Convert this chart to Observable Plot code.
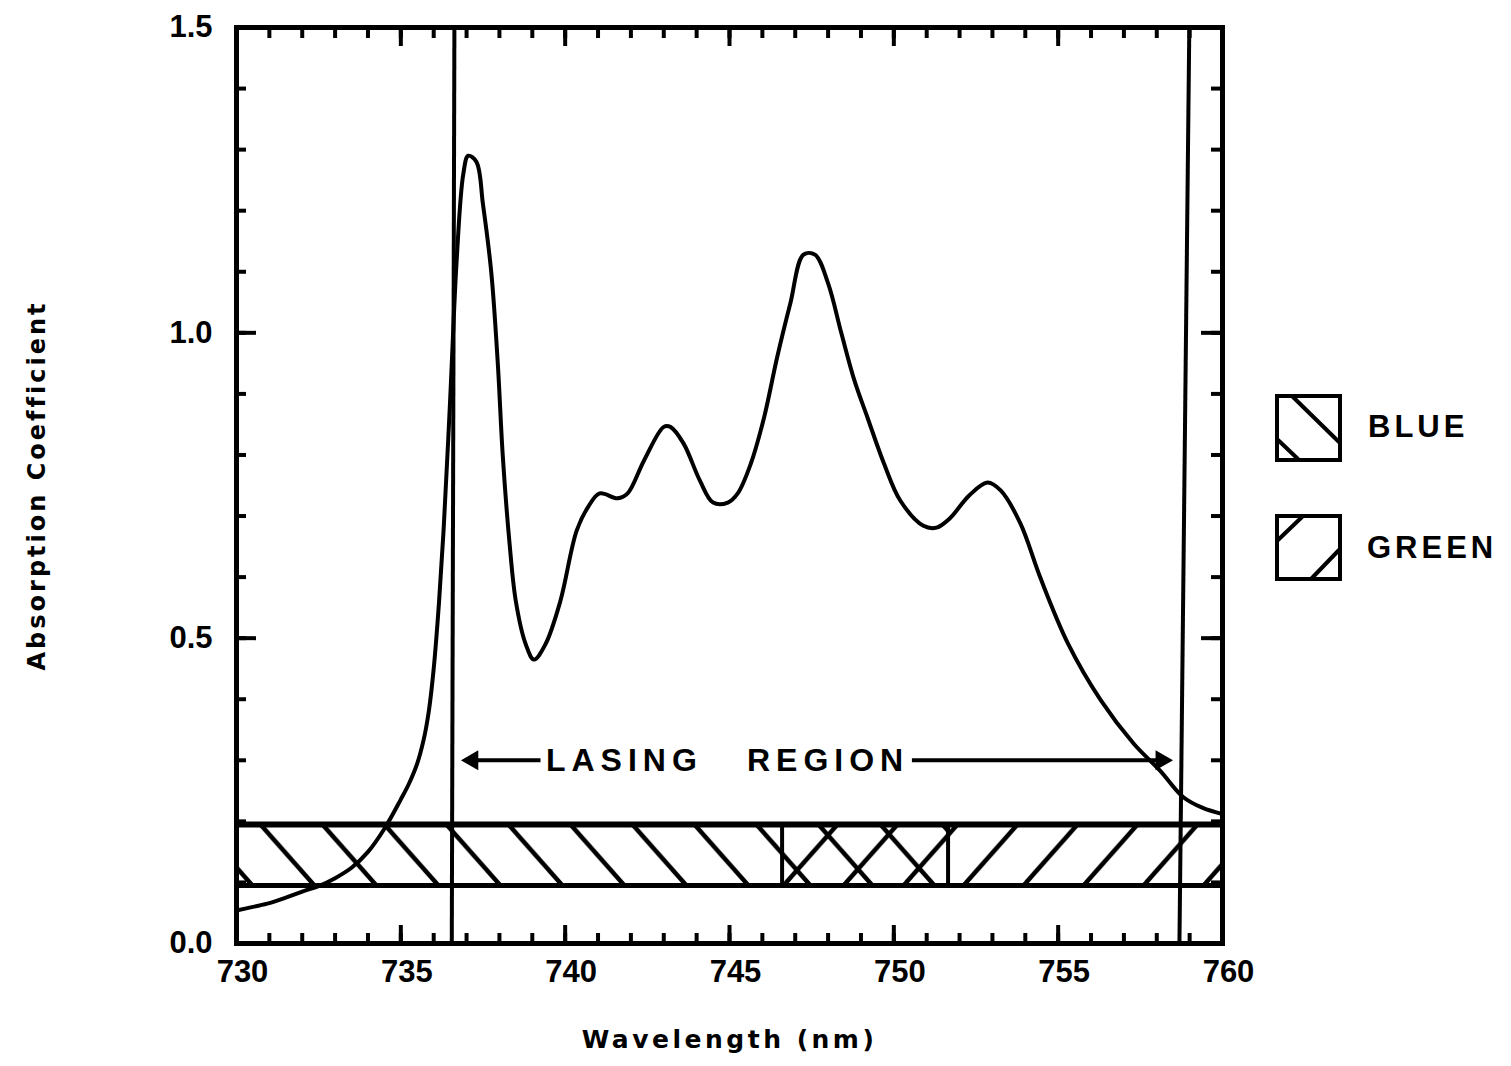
<!DOCTYPE html>
<html><head><meta charset="utf-8">
<script src="https://cdn.jsdelivr.net/npm/d3@7"></script>
<script src="https://cdn.jsdelivr.net/npm/@observablehq/plot@0.6"></script>
<style>
body{margin:0;background:#fff;}
#wrap{position:relative;width:1511px;height:1066px;overflow:hidden;}
.leg{position:absolute;font-family:"Liberation Sans",Arial,sans-serif;font-weight:bold;font-size:31px;letter-spacing:4px;color:#000;line-height:1;}
</style></head><body><div id="wrap"></div>
<script>
// Absorption spectrum
const wavelength = [730.0,730.5,731.0,731.5,732.0,732.5,733.0,733.5,734.0,734.5,735.0,735.25,735.5,735.7,735.85,736.0,736.15,736.3,736.5,736.7,736.9,737.05,737.3,737.5,737.75,737.95,738.1,738.3,738.5,738.8,739.05,739.4,739.85,740.35,740.7,741.05,741.6,741.9,742.4,743.0,743.2,743.6,744.1,744.5,744.95,745.25,745.65,746.05,746.45,746.85,747.25,747.6,748.0,748.4,748.8,749.2,749.7,750.2,750.9,751.3,751.7,752.3,752.85,753.25,753.85,754.45,755.3,756.3,757.3,758.1,758.8,759.4,760.0];
const absorption = [0.054,0.060,0.066,0.075,0.085,0.094,0.107,0.124,0.150,0.188,0.236,0.262,0.295,0.335,0.380,0.450,0.550,0.676,0.890,1.120,1.260,1.290,1.280,1.210,1.100,0.950,0.800,0.660,0.560,0.490,0.465,0.490,0.560,0.676,0.715,0.737,0.729,0.737,0.791,0.846,0.846,0.819,0.758,0.722,0.722,0.737,0.786,0.861,0.960,1.048,1.128,1.128,1.081,1.000,0.922,0.861,0.786,0.725,0.684,0.681,0.696,0.734,0.755,0.742,0.688,0.600,0.491,0.398,0.327,0.283,0.240,0.222,0.212];

// Axes
const xMinorTicks = [730,731,732,733,734,735,736,737,738,739,740,741,742,743,744,745,746,747,748,749,750,751,752,753,754,755,756,757,758,759,760];
const xMajorTicks = [730,735,740,745,750,755,760];
const yMinorTicks = [0,0.1,0.2,0.3,0.4,0.5,0.6,0.7,0.8,0.9,1.0,1.1,1.2,1.3,1.4,1.5];
const yMajorTicks = [0,0.5,1.0,1.5];

// Lasing region limits (slightly slanted hand-drawn lines: top / bottom)
const limitTop = [736.63, 758.99];
const limitBottom = [736.55, 758.69];

// Pump bands (hatched strip)
const bandLow = 0.095, bandHigh = 0.195;
const bandNames = ["BLUE", "GREEN"];
const bandStart = [730, 746.6];
const bandEnd = [751.65, 760];

// "LASING REGION" annotation
const annotWords = ["LASING", "REGION"];
const annotX = [741.8, 748.0];
const annotY = 0.3;
const arrowFrom = [739.25, 750.55];
const arrowTo = [737.0, 758.1];
const arrowHeadX = [737.18, 758.14];
const arrowHeadRotate = [-90, 90];

const curve = wavelength.map((w, i) => ({w, a: absorption[i]}));
const bands = bandNames.map((n, i) => ({n, x1: bandStart[i], x2: bandEnd[i]}));
const limits = limitTop.map((t, i) => ({t, b: limitBottom[i]}));
const words = annotWords.map((s, i) => ({s, x: annotX[i]}));
const arrows = arrowFrom.map((f, i) => ({f, t: arrowTo[i]}));
const heads = arrowHeadX.map((x, i) => ({x, r: arrowHeadRotate[i]}));

const numFont = '"Liberation Sans", Arial, sans-serif';
const titleFont = '"DejaVu Sans", sans-serif';

const plot = Plot.plot({
  width: 1511, height: 1066,
  marginLeft: 236, marginRight: 289, marginTop: 27, marginBottom: 123,
  style: {fontFamily: numFont, background: "white", color: "black", overflow: "visible"},
  x: {domain: [730, 760], axis: null},
  y: {domain: [0, 1.5], axis: null},
  marks: [
    // hatched bands
    Plot.rect(bands, {x1: "x1", x2: "x2", y1: bandLow, y2: bandHigh, fill: d => d.n === "BLUE" ? "url(#hatchBlue)" : "url(#hatchGreen)"}),
    Plot.ruleY([bandHigh], {x1: 730, x2: 760, strokeWidth: 6}),
    Plot.ruleY([bandLow], {x1: 730, x2: 760, strokeWidth: 5}),
    Plot.ruleX([bandStart[1], bandEnd[0]], {y1: bandLow, y2: bandHigh, strokeWidth: 4}),
    // lasing-region limits
    Plot.link(limits, {x1: "t", y1: 1.5, x2: "b", y2: 0, strokeWidth: 4}),
    // spectrum
    Plot.line(curve, {x: "w", y: "a", curve: "catmull-rom", strokeWidth: 4, strokeLinejoin: "round"}),
    // annotation
    Plot.link(arrows, {x1: "f", x2: "t", y1: annotY, y2: annotY, strokeWidth: 4}),
    Plot.dot(heads, {x: "x", y: annotY, symbol: "triangle", r: 6.5, rotate: "r", fill: "black", stroke: "black", strokeWidth: 1.5}),
    Plot.text(words, {x: "x", y: annotY, text: "s", fontSize: 32, fontWeight: "bold", fontFamily: numFont}),
    // ticks (inward, all four sides)
    Plot.axisX({ticks: xMinorTicks, anchor: "bottom", tickSize: -10, strokeWidth: 4, fill: "none", label: null}),
    Plot.axisX({ticks: xMajorTicks, anchor: "bottom", tickSize: -18, strokeWidth: 4, fill: "none", label: null}),
    Plot.axisX({ticks: xMinorTicks, anchor: "top", tickSize: -10, strokeWidth: 4, fill: "none", label: null}),
    Plot.axisX({ticks: xMajorTicks, anchor: "top", tickSize: -18, strokeWidth: 4, fill: "none", label: null}),
    Plot.axisY({ticks: yMinorTicks, anchor: "left", tickSize: -10, strokeWidth: 4, fill: "none", label: null}),
    Plot.axisY({ticks: yMajorTicks, anchor: "left", tickSize: -20, strokeWidth: 4, fill: "none", label: null}),
    Plot.axisY({ticks: yMinorTicks, anchor: "right", tickSize: -12, strokeWidth: 4, fill: "none", label: null}),
    Plot.axisY({ticks: yMajorTicks, anchor: "right", tickSize: -22, strokeWidth: 4, fill: "none", label: null}),
    // tick labels
    Plot.axisX({ticks: xMajorTicks, anchor: "bottom", tickSize: 0, tickPadding: 16, dx: 6, tickFormat: d3.format("d"), fontSize: 31, fontWeight: "bold", label: null}),
    Plot.axisY({ticks: yMajorTicks, anchor: "left", tickSize: 0, tickPadding: 24, tickFormat: d3.format(".1f"), fontSize: 31, fontWeight: "bold", label: null}),
    // axis titles
    Plot.text(["Wavelength (nm)"], {frameAnchor: "bottom", textAnchor: "middle", dy: 104, fontSize: 25, fontWeight: "bold", fontFamily: titleFont}),
    Plot.text(["Absorption Coefficient"], {frameAnchor: "left", textAnchor: "middle", dx: -199, rotate: -90, fontSize: 24, fontWeight: "bold", fontFamily: titleFont}),
    Plot.frame({strokeWidth: 5})
  ]
});

// hatch patterns aligned to the band
const ys = plot.scale("y");
const yTop = ys.apply(bandHigh), yBot = ys.apply(bandLow);
const H = yBot - yTop;
const ns = "http://www.w3.org/2000/svg";
const defs = document.createElementNS(ns, "defs");
function pattern(id, x0, pitch, run, dir) {
  const p = document.createElementNS(ns, "pattern");
  p.setAttribute("id", id);
  p.setAttribute("patternUnits", "userSpaceOnUse");
  p.setAttribute("x", x0); p.setAttribute("y", yTop);
  p.setAttribute("width", pitch); p.setAttribute("height", H);
  for (const off of [-pitch, 0, pitch]) {
    const l = document.createElementNS(ns, "line");
    if (dir > 0) { // "\"
      l.setAttribute("x1", off); l.setAttribute("y1", 0);
      l.setAttribute("x2", off + run); l.setAttribute("y2", H);
    } else { // "/"
      l.setAttribute("x1", off + run); l.setAttribute("y1", 0);
      l.setAttribute("x2", off); l.setAttribute("y2", H);
    }
    l.setAttribute("stroke", "black"); l.setAttribute("stroke-width", 4.5);
    p.appendChild(l);
  }
  defs.appendChild(p);
}
pattern("hatchBlue", 12, 62, 54, 1);
pattern("hatchGreen", 4, 60, 54, -1);
plot.insertBefore(defs, plot.firstChild);

const spacing = {"Wavelength (nm)": "3.5px", "Absorption Coefficient": "3px", "LASING": "6px", "REGION": "6px"};
d3.select(plot).selectAll("text").each(function() {
  const s = spacing[this.textContent];
  if (s) this.style.letterSpacing = s;
});

const wrap = document.getElementById("wrap");
wrap.appendChild(plot);

// legend (to the right of the frame)
const leg = document.createElement("div");
leg.innerHTML = `
<svg style="position:absolute;left:0;top:0" width="1511" height="1066">
  <g stroke="black" stroke-width="4" fill="none" stroke-linecap="round">
    <rect x="1277" y="396" width="63" height="64"/>
    <line x1="1293" y1="397" x2="1339" y2="442"/>
    <line x1="1278" y1="440" x2="1298" y2="459"/>
    <rect x="1277" y="516" width="63" height="63"/>
    <line x1="1278" y1="540" x2="1302" y2="517"/>
    <line x1="1312" y1="578" x2="1339" y2="550"/>
  </g>
</svg>
<div class="leg" style="left:1368px;top:411px">${bandNames[0]}</div>
<div class="leg" style="left:1367px;top:532px">${bandNames[1]}</div>`;
wrap.appendChild(leg);
</script></body></html>
